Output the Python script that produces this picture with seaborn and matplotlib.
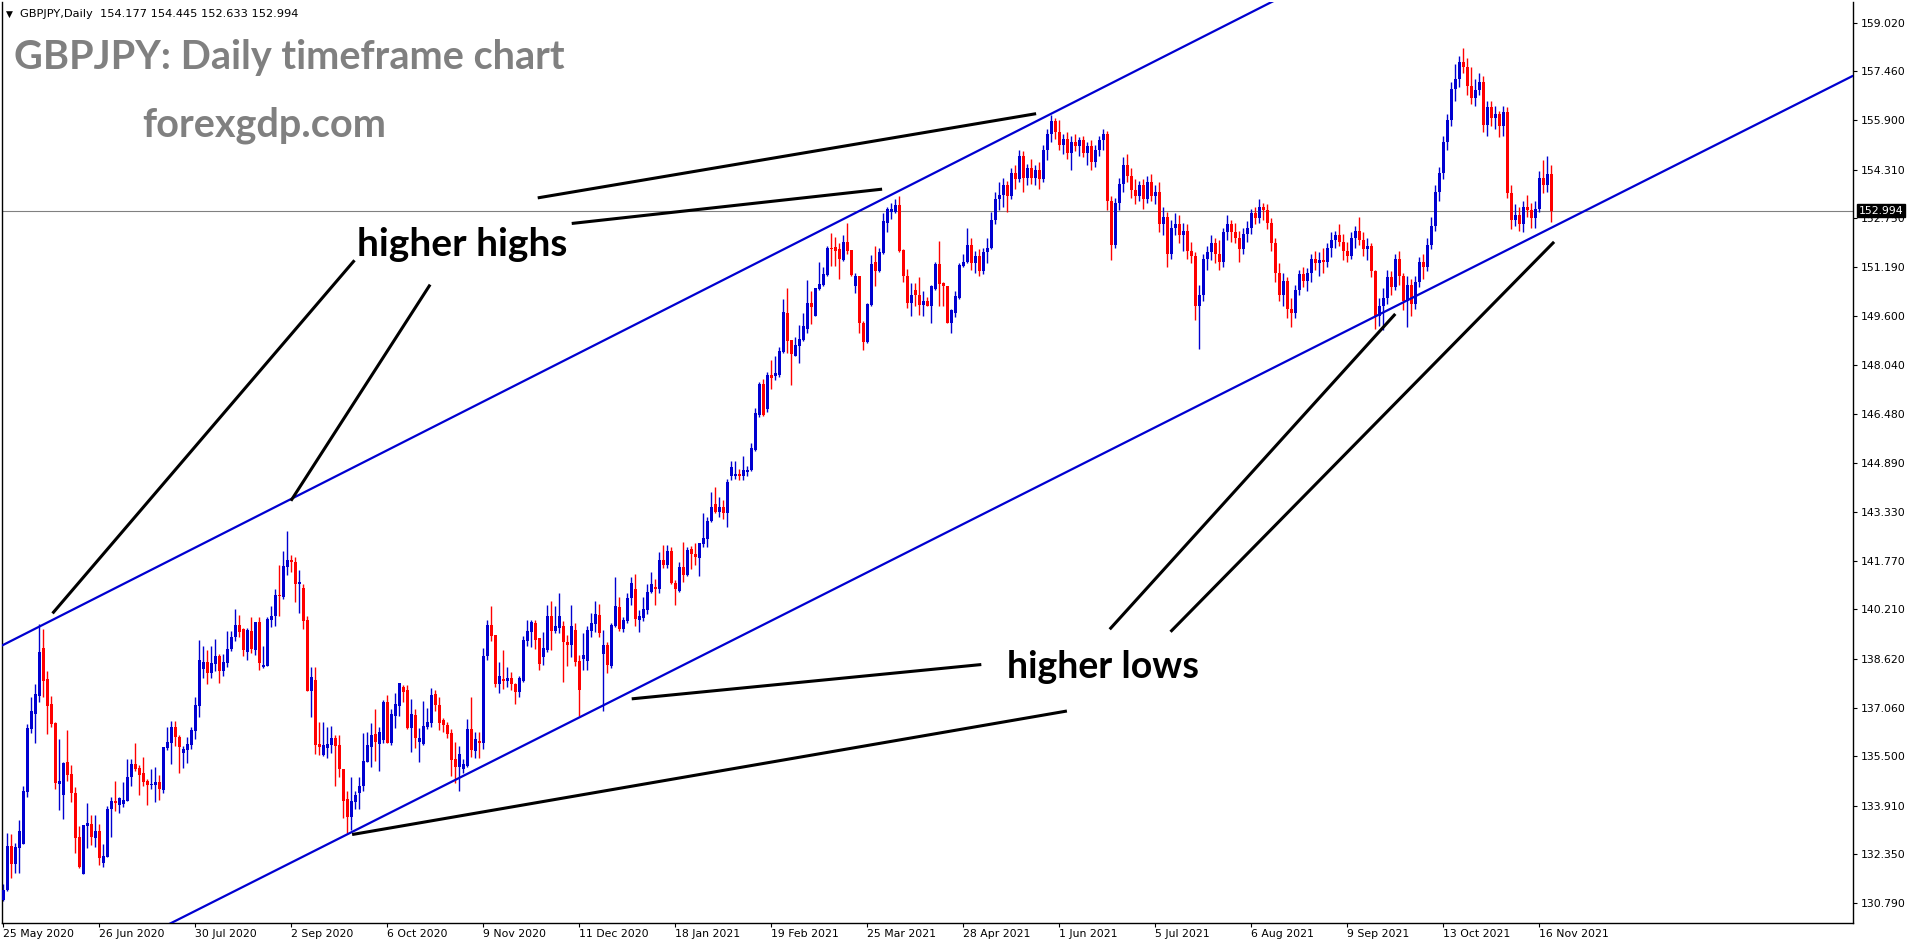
import matplotlib
matplotlib.use("Agg")
import matplotlib.pyplot as plt
import numpy as np
import pandas as pd
import seaborn as sns

# ---------------- data, daily bars 25 May 2020 -> 19 Nov 2021 -------------
opens = [130.89,131.21,132.62,132.05,132.56,132.69,134.35,136.38,136.85,137.43,
         138.96,137.97,137.18,136.58,134.62,134.26,135.32,134.93,134.31,132.90,
         131.72,133.26,133.33,132.88,133.11,132.07,132.26,133.80,134.07,133.95,
         133.97,134.08,134.85,135.25,135.12,134.97,134.71,134.57,134.57,134.67,
         134.42,135.78,135.94,136.45,136.13,135.61,135.70,135.87,136.32,137.11,
         138.31,138.53,138.18,138.46,138.71,138.24,138.48,138.93,139.31,139.71,
         139.57,138.85,139.51,138.89,139.81,138.35,138.40,139.87,139.98,140.67,
         140.60,141.56,141.80,141.73,141.01,140.90,139.87,137.60,137.95,135.89,
         135.53,135.77,135.87,136.08,135.86,135.10,134.12,133.56,134.04,134.33,
         134.53,135.32,135.81,136.22,135.90,136.02,137.24,135.92,136.79,137.11,
         137.71,137.63,136.40,136.82,135.97,135.89,136.45,136.58,137.50,137.13,
         136.66,136.51,136.26,135.40,135.17,135.10,135.19,136.36,135.68,135.99,
         135.94,138.70,139.70,139.39,137.82,137.97,137.90,138.01,137.82,137.56,
         137.90,139.19,139.48,139.78,139.29,138.67,138.91,140.00,139.53,139.61,
         139.68,139.16,139.08,139.55,138.56,138.61,138.56,139.53,139.74,140.03,
         138.78,139.06,138.39,139.66,140.28,139.57,139.85,140.56,140.85,139.87,
         139.93,140.19,140.75,140.94,140.85,141.79,141.62,142.09,141.06,140.81,
         141.56,141.31,142.14,141.99,141.86,142.31,142.48,143.03,143.59,143.33,
         143.50,143.31,144.47,144.47,144.55,144.47,144.60,144.68,145.32,146.43,
         147.44,146.62,147.73,147.69,147.71,148.46,149.70,148.85,148.33,148.65,
         148.85,149.21,150.02,149.62,150.49,150.60,150.93,151.80,151.82,151.75,
         151.41,151.99,151.73,150.56,150.88,149.38,148.79,149.96,151.36,151.07,
         151.63,152.61,152.96,152.95,153.17,151.73,150.90,150.04,150.45,150.29,
         149.97,150.10,149.94,150.47,151.28,150.66,150.58,149.40,149.70,150.18,
         151.22,151.35,
         151.88,151.30,151.55,151.05,151.65,151.80,152.70,153.35,153.50,153.80,
         153.45,154.20,154.00,154.75,154.05,154.35,154.05,154.30,154.00,154.95,
         155.45,155.85,155.50,155.10,155.30,154.85,155.20,155.05,155.25,154.85,
         155.05,154.55,154.95,155.25,155.45,153.30,151.90,153.25,153.85,154.45,
         154.10,153.65,153.45,153.80,153.35,153.90,153.45,153.60,152.55,152.80,
         151.60,152.45,152.55,152.20,152.35,151.70,151.55,149.95,150.30,151.45,
         151.65,151.95,151.60,151.35,152.30,152.55,152.30,152.10,151.75,152.25,
         152.45,152.90,152.75,153.10,153.00,152.60,151.95,151.00,150.30,150.75,
         149.85,149.70,150.45,150.95,150.75,151.00,151.45,151.30,151.40,151.35,
         151.80,152.05,152.20,152.00,151.70,151.55,152.10,152.35,152.05,151.75,
         151.85,151.05,149.60,149.95,150.20,150.85,150.55,151.45,150.90,150.10,
         150.60,150.00,150.70,151.35,151.20,151.90,152.50,153.60,154.20,155.20,
         155.90,156.90,157.20,157.75,157.60,157.00,156.60,156.85,157.10,155.75,
         156.30,155.95,156.10,155.70,156.15,153.55,152.70,152.85,152.55,153.10,
         153.00,152.75,153.05,154.05,153.80,154.177]
highs = [131.40,133.03,133.01,132.73,133.46,134.55,136.53,137.41,137.82,139.74,
         139.57,138.24,137.43,136.61,136.05,135.33,136.34,135.21,134.50,133.26,
         133.30,134.01,133.62,133.62,133.33,132.69,133.91,134.20,134.71,134.20,
         134.67,135.41,135.41,135.91,135.21,135.49,134.76,135.08,135.17,134.90,
         135.80,136.45,136.64,136.64,136.17,135.83,136.13,136.45,137.39,139.23,
         139.04,138.91,139.04,139.25,138.78,138.78,139.51,139.53,140.21,140.03,
         139.60,139.62,139.96,139.81,139.96,139.04,139.96,140.32,140.85,141.63,
         142.07,142.73,141.96,141.88,141.47,141.02,140.00,138.37,138.37,136.61,
         136.61,136.45,136.47,136.18,136.18,135.10,134.40,134.83,134.40,134.83,
         136.24,136.28,136.56,137.00,136.45,137.31,137.45,137.03,137.52,137.84,
         137.77,137.77,137.35,137.01,136.39,137.26,137.05,137.69,137.63,137.41,
         136.71,136.60,136.36,135.97,135.83,135.42,136.68,137.41,136.28,136.28,
         138.96,139.87,140.32,139.39,138.52,138.89,138.37,138.20,137.86,138.07,
         139.36,139.87,139.87,139.87,139.29,139.49,140.35,140.49,140.32,140.73,
         139.83,139.40,140.36,139.78,138.74,139.46,139.66,140.10,140.49,140.38,
         139.55,139.16,139.78,141.26,140.60,139.96,140.72,141.26,141.34,140.19,
         140.62,141.02,141.41,141.19,142.05,142.28,142.28,142.22,141.15,141.74,
         142.36,142.22,142.24,142.35,142.35,143.31,143.18,143.98,144.14,143.82,
         143.72,144.40,144.95,144.97,144.70,145.11,144.81,145.53,146.66,147.51,
         147.59,147.82,148.21,148.33,148.63,150.17,150.50,148.85,148.95,149.32,
         149.72,150.77,150.40,150.51,151.33,151.20,151.86,152.27,152.14,151.95,
         152.21,152.61,151.73,150.99,150.88,149.44,150.02,151.56,151.86,151.79,
         152.91,153.12,153.25,153.38,153.46,151.75,151.11,150.66,150.66,150.86,
         150.43,150.21,150.61,151.33,152.02,150.69,150.58,149.83,150.40,151.30,
         151.60,152.44,
         152.10,151.70,151.75,151.80,152.10,152.95,153.60,153.90,154.05,153.95,
         154.35,154.45,154.95,154.90,154.50,154.65,154.45,154.55,155.10,155.60,
         156.07,155.95,155.90,155.45,155.50,155.40,155.45,155.35,155.40,155.20,
         155.25,155.10,155.40,155.60,155.55,153.45,153.40,154.05,154.70,154.80,
         154.35,154.00,153.95,154.00,154.10,154.15,153.80,153.90,153.10,152.95,
         152.70,152.90,152.85,152.60,152.55,152.00,151.65,150.60,151.60,151.85,
         152.20,152.10,152.05,152.45,152.85,152.70,152.60,152.35,152.45,152.65,
         153.05,153.10,153.35,153.25,153.20,152.75,152.10,151.30,151.00,150.85,
         150.20,150.60,151.10,151.20,151.15,151.60,151.70,151.65,151.80,151.95,
         152.30,152.35,152.55,152.25,152.00,152.30,152.50,152.80,152.30,152.10,
         151.95,151.10,150.20,150.50,151.10,151.05,151.60,151.70,151.00,150.90,
         150.80,150.90,151.50,151.60,152.10,152.80,153.80,154.40,155.40,156.10,
         157.10,157.70,157.95,158.22,157.90,157.60,157.20,157.40,157.30,156.50,
         156.50,156.35,156.20,156.35,156.30,153.80,153.20,153.10,153.30,153.50,
         153.25,153.30,154.25,154.60,154.75,154.445]
lows = [130.85,131.19,131.60,131.77,131.77,132.69,134.20,136.24,135.94,137.25,
        137.41,136.21,136.45,134.46,133.78,133.50,134.71,134.04,132.39,131.92,
        131.72,132.56,132.64,132.58,132.01,131.94,132.26,132.90,133.76,133.69,
        133.86,134.06,134.55,135.04,134.27,134.55,133.95,134.46,134.04,134.10,
        134.33,135.70,135.25,135.83,134.97,135.13,135.29,135.72,136.06,136.77,
        138.02,137.80,138.02,138.24,137.84,138.07,138.37,138.86,139.21,139.33,
        138.71,138.59,138.80,138.75,138.25,138.32,138.38,139.63,139.68,140.00,
        140.53,141.31,141.40,140.46,140.10,139.59,137.60,136.75,135.57,135.54,
        135.51,135.43,135.60,134.55,134.85,133.51,133.03,133.14,133.82,133.82,
        134.38,135.32,135.17,135.36,135.04,135.94,135.92,135.85,136.41,136.79,
        137.25,136.36,135.65,135.77,135.31,135.86,136.36,136.45,136.96,136.34,
        136.29,136.08,134.87,134.63,134.40,134.95,135.17,135.47,135.43,135.45,
        135.73,138.60,139.21,137.73,137.54,137.67,137.73,137.63,137.18,137.39,
        137.88,139.03,139.01,138.93,138.27,138.42,138.84,138.89,139.44,139.44,
        137.88,138.39,138.67,138.39,136.79,138.27,138.27,139.31,139.48,139.31,
        136.96,138.16,138.33,139.64,139.53,139.49,139.76,140.34,139.67,139.49,
        139.82,140.06,140.72,140.34,140.72,141.54,141.53,141.02,140.35,140.75,
        141.07,141.28,141.51,141.64,141.28,142.20,142.22,143.01,143.31,143.16,
        143.12,142.84,144.36,144.40,144.36,144.36,144.50,144.64,145.30,146.39,
        146.41,146.55,147.27,147.57,147.65,148.42,148.42,147.40,148.33,148.12,
        148.80,149.06,149.36,149.60,150.45,150.58,150.88,151.22,151.22,150.81,
        151.37,151.60,150.88,150.34,149.08,148.53,148.76,149.92,150.56,151.01,
        151.61,152.32,152.72,152.93,151.67,150.69,149.86,149.60,149.94,149.66,
        149.62,149.93,149.40,150.45,149.94,149.94,149.40,149.08,149.59,150.17,
        151.20,151.30,
        151.10,151.00,150.90,150.95,151.30,151.75,152.55,153.00,153.10,152.95,
        153.35,153.70,153.90,153.60,153.80,153.85,153.80,153.70,153.90,154.60,
        155.20,155.30,154.95,154.80,154.65,154.30,154.90,154.75,154.70,154.45,
        154.30,154.40,154.75,154.95,153.00,151.40,151.80,153.00,153.60,153.90,
        153.40,153.20,153.30,153.05,153.25,153.30,153.20,152.30,152.20,151.20,
        151.45,152.20,151.95,151.70,151.45,151.30,149.50,148.55,150.10,151.10,
        151.40,151.30,151.10,151.20,152.05,152.00,151.95,151.35,151.60,152.00,
        152.25,152.55,152.60,152.70,152.40,151.70,150.70,150.10,149.95,149.55,
        149.25,149.55,150.30,150.55,150.40,150.70,151.10,150.90,151.00,151.20,
        151.50,151.80,151.85,151.40,151.35,151.45,151.80,151.90,151.55,151.40,
        150.85,149.20,149.30,149.15,150.00,150.30,150.45,150.60,149.80,149.25,
        149.60,149.85,150.55,150.80,151.05,151.75,152.35,153.30,154.00,154.95,
        155.70,156.50,156.95,157.40,156.70,156.40,156.35,156.70,155.50,155.40,
        155.70,155.60,155.35,155.40,153.40,152.40,152.50,152.35,152.30,152.80,
        152.45,152.45,152.95,153.55,153.60,152.633]
closes = [131.21,132.62,132.05,132.60,133.11,134.39,136.41,136.94,137.50,138.85,
          137.92,137.11,136.53,134.65,134.71,135.29,134.91,134.33,132.88,131.94,
          133.30,133.35,132.90,133.11,132.24,132.30,133.82,134.07,134.01,134.16,
          134.10,134.82,135.25,135.10,134.90,134.67,134.59,134.61,134.67,134.46,
          135.80,135.96,136.45,136.13,135.79,135.74,135.89,136.34,137.13,138.59,
          138.53,138.18,138.50,138.71,138.24,138.52,138.93,139.33,139.71,139.48,
          138.89,139.55,138.93,139.81,138.50,138.43,139.91,140.00,140.68,140.64,
          141.60,141.80,141.73,141.01,141.07,139.85,137.60,138.05,135.86,135.81,
          135.85,135.89,136.08,135.83,135.10,134.08,133.56,134.07,134.25,134.53,
          135.34,135.85,136.17,135.97,136.28,137.24,135.94,136.86,137.18,137.84,
          137.56,136.40,136.86,136.07,136.07,136.47,136.60,137.47,137.13,136.58,
          136.49,136.21,135.38,135.15,135.57,135.25,136.36,135.70,136.04,135.92,
          138.72,139.70,139.36,137.82,138.07,137.90,138.01,137.80,137.56,138.01,
          139.23,139.53,139.80,139.23,138.46,138.97,140.00,139.53,139.66,140.00,
          139.16,139.08,139.68,138.52,137.62,138.74,139.55,139.76,140.05,139.46,
          139.06,138.41,139.70,140.32,139.57,139.87,140.56,141.06,139.91,139.98,
          140.21,140.77,141.02,140.87,141.79,141.62,142.09,141.06,140.85,141.56,
          141.31,142.11,141.99,141.88,142.33,142.50,143.05,143.50,143.33,143.50,
          143.31,144.29,144.77,144.55,144.47,144.68,144.68,145.38,146.50,147.44,
          146.44,147.71,147.63,147.78,148.50,149.74,148.80,148.40,148.68,148.87,
          149.30,150.02,149.90,150.51,150.64,150.96,151.80,151.75,151.71,151.43,
          151.99,151.71,150.92,150.88,149.38,148.79,150.00,151.28,151.07,151.65,
          152.65,153.04,153.04,153.17,151.71,150.90,150.04,150.29,150.28,149.97,
          150.10,149.95,150.58,151.28,150.64,150.56,149.40,149.81,150.24,151.26,
          151.35,151.88,
          151.30,151.55,151.05,151.65,151.80,152.70,153.35,153.50,153.80,153.45,
          154.20,154.00,154.75,154.05,154.35,154.05,154.30,154.00,154.95,155.45,
          155.85,155.50,155.10,155.30,154.85,155.20,155.05,155.25,154.85,155.05,
          154.55,154.95,155.25,155.45,153.30,151.90,153.25,153.85,154.45,154.10,
          153.65,153.45,153.80,153.35,153.90,153.45,153.60,152.55,152.80,151.60,
          152.45,152.55,152.20,152.35,151.70,151.55,149.95,150.30,151.45,151.65,
          151.95,151.60,151.35,152.30,152.55,152.30,152.10,151.75,152.25,152.45,
          152.90,152.75,153.10,153.00,152.60,151.95,151.00,150.30,150.75,149.85,
          149.70,150.45,150.95,150.75,151.00,151.45,151.30,151.40,151.35,151.80,
          152.05,152.20,152.00,151.70,151.55,152.10,152.35,152.05,151.75,151.85,
          151.05,149.60,149.95,150.20,150.85,150.55,151.45,150.90,150.10,150.60,
          150.00,150.70,151.35,151.20,151.90,152.50,153.60,154.20,155.20,155.90,
          156.90,157.20,157.75,157.60,157.00,156.60,156.85,157.10,155.75,156.30,
          155.95,156.10,155.70,156.15,153.55,152.70,152.85,152.55,153.10,153.00,
          152.75,153.05,154.05,153.80,154.18,152.994]

x_labels = ["25 May 2020", "26 Jun 2020", "30 Jul 2020", "2 Sep 2020", "6 Oct 2020",
            "9 Nov 2020", "11 Dec 2020", "18 Jan 2021", "19 Feb 2021", "25 Mar 2021",
            "28 Apr 2021", "1 Jun 2021", "5 Jul 2021", "6 Aug 2021", "9 Sep 2021",
            "13 Oct 2021", "16 Nov 2021"]
bars_per_label = 24
y_ticks = [159.020, 157.460, 155.900, 154.310, 152.750, 151.190, 149.600, 148.040,
           146.480, 144.890, 143.330, 141.770, 140.210, 138.620, 137.060, 135.500,
           133.910, 132.350, 130.790]
last_price = 152.994
header_text = "GBPJPY,Daily  154.177 154.445 152.633 152.994"
title_text = "GBPJPY: Daily timeframe chart"
site_text = "forexgdp.com"

# blue trend lines (bar index, price)
upper_line_x = [-0.33, 330.0]
upper_line_y = [139.05, 160.52]
lower_line_x = [30.0, 462.35]
lower_line_y = [129.38, 157.31]

# black pointer lines (bar index, price) pairs
pointers = [
    ((87.8, 151.40), (12.3, 140.08)),
    ((106.7, 150.62), (71.9, 143.69)),
    ((133.6, 153.40), (258.2, 156.10)),
    ((142.1, 152.58), (219.7, 153.68)),
    ((157.1, 137.34), (244.5, 138.44)),
    ((87.2, 132.99), (265.9, 136.95)),
    ((276.6, 139.57), (348.0, 149.68)),
    ((291.8, 139.49), (387.7, 151.99)),
]

# ---------------- figure ----------------
W, H = 1916, 946
sns.set_theme(style="white")
plt.rcParams["font.family"] = ["DejaVu Sans"]
fig = plt.figure(figsize=(W / 100, H / 100), dpi=100)
fig.patch.set_facecolor("white")
ax_left, ax_right, ax_top, ax_bottom = 2, 1852.7, 2, 922.5
ax = fig.add_axes([ax_left / W, 1 - ax_bottom / H, (ax_right - ax_left) / W,
                   (ax_bottom - ax_top) / H])
ax.set_facecolor("white")

df = pd.DataFrame({"o": opens, "h": highs, "l": lows, "c": closes})
df["i"] = np.arange(len(df))
up = df["c"] >= df["o"]
BLUE = "#0000D0"
RED = "#FF0000"
colors = np.where(up, BLUE, RED)
body_low = df[["o", "c"]].min(axis=1)
body_h = (df["c"] - df["o"]).abs().clip(lower=0.04)

ax.vlines(df["i"], df["l"], df["h"], colors=colors, linewidth=1.0, zorder=2)
ax.bar(df["i"], body_h, bottom=body_low, width=0.75, color=colors, linewidth=0, zorder=3)

# trend lines
sns.lineplot(x=upper_line_x, y=upper_line_y, ax=ax, color=BLUE, linewidth=1.6, zorder=4)
sns.lineplot(x=lower_line_x, y=lower_line_y, ax=ax, color=BLUE, linewidth=1.6, zorder=4)

# current price line
ax.axhline(last_price, color="#808080", linewidth=0.8, zorder=1)

# pointer lines
for (x0, y0), (x1, y1) in pointers:
    ax.plot([x0, x1], [y0, y1], color="black", linewidth=2.2, solid_capstyle="butt", zorder=5)

ax.set_xlim(-0.33, 462.35)
ax.set_ylim(130.17, 159.68)

for s in ["left", "right", "bottom"]:
    ax.spines[s].set_visible(True)
    ax.spines[s].set_color("black")
    ax.spines[s].set_linewidth(1.0)
ax.spines["top"].set_visible(False)

ax.yaxis.tick_right()
ax.set_yticks(y_ticks)
ax.set_yticklabels([f"{v:.3f}" for v in y_ticks])
ax.set_xticks([k * bars_per_label for k in range(len(x_labels))])
ax.set_xticklabels(x_labels, ha="left")
ax.tick_params(axis="y", which="both", right=True, left=False, direction="out",
               length=3, width=0.8, pad=3, labelsize=7.8, colors="black")
ax.tick_params(axis="x", which="both", bottom=True, direction="out",
               length=3, width=0.8, pad=2, labelsize=7.8, colors="black")
for lab in ax.get_xticklabels() + ax.get_yticklabels():
    lab.set_color("black")
ax.grid(False)

# current price label
ax.annotate(f"{last_price:.3f}", xy=(1.0, last_price), xycoords=("axes fraction", "data"),
            xytext=(6, 0), textcoords="offset pixels", ha="left", va="center",
            fontsize=7.8, color="white", zorder=10, annotation_clip=False,
            bbox=dict(boxstyle="square,pad=0.15", facecolor="black", edgecolor="black"))

# texts
def fx(px):
    return px / W

def fy(py):
    return 1 - py / H

fig.text(fx(6), fy(14), "\u25BC", fontsize=6.5, color="black", ha="left", va="center")
fig.text(fx(20), fy(14), header_text, fontsize=8.2, color="black", ha="left", va="center")
fig.text(fx(14), fy(57), title_text, fontsize=28.5, fontweight="bold", color="#808080",
         ha="left", va="center", family="Lato")
fig.text(fx(142), fy(125), site_text, fontsize=28.5, fontweight="bold", color="#808080",
         ha="left", va="center", family="Lato")
fig.text(fx(357), fy(245), "higher highs", fontsize=28, fontweight="bold", color="black",
         ha="left", va="center", family="Lato")
fig.text(fx(1007), fy(667), "higher lows", fontsize=27, fontweight="bold", color="black",
         ha="left", va="center", family="Lato")

fig.savefig("out.png", dpi=100, facecolor="white")
